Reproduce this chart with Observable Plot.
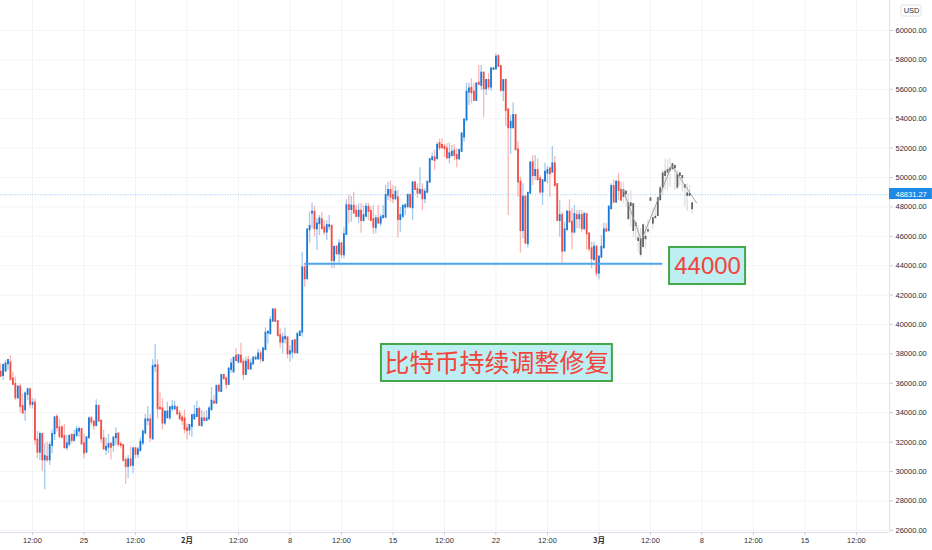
<!DOCTYPE html>
<html>
<head>
<meta charset="utf-8">
<script src="https://cdn.jsdelivr.net/npm/d3@7"></script>
<script src="https://cdn.jsdelivr.net/npm/@observablehq/plot@0.6"></script>
<style>
html,body{margin:0;padding:0;background:#fff}
svg{display:block}
</style>
</head>
<body>
<div id="chart"></div>
<script>
// 4-hour candles, first candle 19 Jan 2021 08:00 UTC
const firstCandle = Date.UTC(2021, 0, 19, 8);
const opens = [
36760,36530,36830,37320,37390,36300,35920,35010,35740,34420,
34190,35240,35560,34560,34650,32150,31310,32520,30790,30970,
30790,31770,32560,33700,32970,32970,32380,31610,31840,32450,
32110,32450,32740,32860,31880,31310,32290,33580,33360,33130,
34440,33420,32220,31470,31650,31840,31770,32290,32560,31840,
31770,30750,30340,30790,30410,31540,31160,31430,31930,32610,
33470,33510,32220,37140,37190,34310,34260,33290,33650,33650,
34260,34260,34330,33920,33650,33580,32900,32830,33060,33580,
33740,34220,33110,33580,33470,33580,34190,34720,34650,35800,
35440,36530,36300,35920,36940,36760,37840,37440,37840,37440,
36600,37550,36980,37320,37660,37660,38000,37550,38280,39410,
39360,40230,41000,40200,39250,38800,39020,39090,38000,38120,
38910,38070,39250,39480,43850,43110,46440,47570,47640,46510,
46850,47120,46580,46280,46670,46690,44350,45260,44810,45490,
44740,46120,48090,47820,48050,47710,47350,47710,47070,47350,
47980,47690,47140,46580,47190,46890,47260,47300,48780,49120,
48780,48550,48620,47140,47350,47980,48020,48780,47940,49640,
49180,48930,49120,48550,49000,49680,51200,51340,51270,52300,
52180,52060,51950,51340,51500,51790,51500,51270,51770,52740,
53920,55810,56080,55810,55240,56420,56260,57100,56030,56600,
56150,57350,57390,58230,57550,55920,56600,54600,53380,53380,
54220,51880,49680,46390,48660,45490,48930,51000,50130,50480,
49910,49000,49750,50290,50590,50360,50930,49520,47070,47410,
44990,46440,47640,46960,46280,47410,47190,47410,46510,47480,
46170,45150,44400,45260,43490,44580,45210,46440,46390,47870,
49390,48320,49680,49120,49110,49000,48210,48210,48160,46850,
45830,45760,45300,45940,46390,48440,46890,47260,47410,48480,
49340,50130,50360,50480,50590,50660,50140,50140,49980,49340,
48780,48780,48210];
const highs = [
37320,37320,37550,37600,37890,36760,36420,35850,35960,35280,
35400,35690,35620,34950,34940,32740,32680,32560,31880,31990,
31990,32830,33740,33880,33580,33130,33200,32450,32520,32560,
32790,33060,33020,32900,32560,32380,33700,33740,33470,34880,
34490,33510,32830,32290,32520,32000,32330,32970,32610,31990,
31840,30970,31090,31650,31650,31650,31650,32290,32830,33880,
34420,33880,37600,38640,37600,35400,34940,34150,34720,34420,
34830,34780,34420,34150,33810,34190,33240,33200,33880,34490,
34780,34380,34150,34040,34150,34420,35690,35170,35850,35960,
36600,36640,36420,36980,37660,37710,38390,37890,38730,37660,
37780,37840,37660,37820,37890,38340,38230,38460,39770,39550,
40540,41020,41020,40270,39700,39410,39770,39140,38570,38910,
38960,39480,39590,44920,44170,46440,47640,48250,48050,47190,
47410,47640,47070,47070,47410,46730,45300,45370,45760,45600,
46580,48480,48780,48710,49000,48090,48210,48210,48090,48250,
48250,47980,48090,47410,48090,47480,48090,49460,49680,49750,
49460,49390,49120,47980,48090,48210,48890,48890,49680,49750,
49570,50660,49570,49230,49750,51270,51660,51840,52400,52600,
52630,52240,52290,52340,52180,52240,51950,51880,53020,53920,
56420,56420,56710,56370,56420,57620,57620,57170,56640,57050,
57460,57500,58410,58350,57620,56640,56710,54670,54220,55080,
54240,52400,50020,49570,48770,49000,51040,51500,51500,51270,
50130,49840,50970,50750,50700,52110,51430,49570,48430,47640,
46960,47750,48480,47870,48090,47750,47750,47750,47640,47480,
46170,45600,45600,45370,44690,46050,46890,46850,48090,49570,
49840,49800,50290,49680,49680,49110,48890,49110,48210,47070,
46730,46510,46850,46730,47070,48550,47870,47980,48660,49460,
50480,51270,51200,51270,50880,50750,50480,50360,50070,49460,
49570,49460,48320];
const lows = [
36420,36190,36760,36870,36190,35850,34830,34880,33990,33920,
33420,34830,34260,34260,31770,30860,30750,30020,28750,30630,
30410,31200,32110,32680,32220,32220,31540,31430,31650,31880,
31990,32330,32330,31770,30860,31250,32220,33130,32790,33020,
33360,31880,31430,31090,31200,30790,31310,31770,31650,31540,
30630,29110,29500,30290,29840,30860,30860,31310,31770,32520,
33130,31990,32110,36760,33580,34150,32830,33130,33580,33470,
34040,34150,33810,33470,33130,32560,32150,32450,32330,33470,
33650,33060,33020,33360,33470,33470,34150,34600,34560,35400,
35400,36250,35560,35850,36690,36760,37550,37320,37320,36190,
36530,36870,36870,37210,37550,37550,37370,37440,38230,38680,
39320,40160,40160,39140,38340,38000,38680,37660,37440,37660,
38000,38000,39180,39140,42540,43040,45530,46510,45940,45030,
46050,46440,46050,45710,46390,43790,43790,44690,44130,44470,
44470,46050,46850,46960,47530,47260,46850,46210,46960,47260,
47070,47070,46120,46170,46850,46670,47250,47190,48440,48320,
48210,48440,45890,46280,47190,47410,47870,47870,47070,49120,
48550,48890,47750,48210,48890,49610,51160,50480,51270,51800,
51950,51340,51200,50930,51380,51160,50660,51160,51720,52400,
53760,54900,55010,55190,55190,56260,55920,54060,55580,55920,
55870,57300,57280,57510,55810,55170,53470,47410,51560,53310,
51840,48660,44850,45830,45490,45210,48890,49450,49790,49790,
48840,48090,49680,49570,48660,50290,49340,47070,45940,44170,
44990,46390,46960,45080,46170,46510,46510,46280,46390,45030,
44920,43790,44350,43220,43040,44470,45150,46280,46280,47800,
48250,48250,48440,48440,48210,47980,47120,46620,45940,45710,
44920,44580,45150,45150,46170,48400,46440,47190,47350,48440,
48780,49120,49120,49340,50480,49120,49160,49460,49000,47980,
47690,48770,47530];
const closes = [
36480,37210,37320,37550,36240,35920,35010,35740,34420,33970,
35280,35560,34560,34650,32150,31310,32520,30790,31020,30790,
31770,32520,33650,32970,32380,32330,31610,31880,32380,32110,
32450,32830,32860,31880,31250,32290,33580,33360,33110,34440,
33420,32220,31540,31650,31840,31650,32290,32520,31840,31770,
30750,30340,30790,30410,31540,31160,31470,31990,32680,33510,
33510,32290,37140,37190,34260,34260,33290,34040,34040,34330,
34380,34380,33920,33580,33470,32860,32790,33130,33790,33830,
34220,33130,33580,33470,33580,34260,34780,34650,35800,35460,
36530,36300,35920,36980,37320,37710,37550,37890,37440,36600,
37440,36980,37320,37710,37710,38000,37660,38340,39410,39480,
40270,41000,40200,39250,38800,39090,39140,38000,38160,38860,
38070,39320,39480,43850,43110,46440,46670,47640,46510,46850,
47190,46510,46280,46730,46730,44350,45260,44810,45490,44740,
46120,48090,47820,48050,47570,47350,47710,47070,47410,47980,
47690,47070,46620,47190,46890,47260,47350,48780,49120,48660,
48550,49000,47140,47410,48050,48090,48780,47980,49640,49180,
48930,49120,48550,49000,49680,51220,51340,51160,52180,52020,
52020,51950,51340,51610,51720,51500,51270,51840,52970,53920,
55810,56030,55760,55240,56370,56330,57100,56030,56600,56150,
57390,57390,58190,57550,55920,56600,54560,53380,53760,54220,
51880,49680,46390,48660,45530,48930,51000,50130,50480,49840,
49000,49790,50360,50480,50250,50930,49450,47070,47410,44990,
46440,47640,46960,46280,47480,47190,47410,46510,47480,46170,
45150,44470,45260,43490,44580,45260,46440,46350,47980,49390,
48320,49680,49120,48440,48710,48890,47190,48090,46390,46730,
45710,44760,46730,45830,46350,48550,47190,47300,48550,49230,
50250,50360,50480,50590,50880,50750,49340,50250,50070,49460,
48890,48850,47870];
// candles from this index on are the grey sketched projection
const projectionStart = 254;
const lastPrice = 48831.27;
const supportPrice = 44130;
const priceTicks = [26000,28000,30000,32000,34000,36000,38000,40000,42000,44000,46000,48000,50000,52000,54000,56000,58000,60000];
const timeTicks = [
  Date.UTC(2021,0,21,12),Date.UTC(2021,0,25),Date.UTC(2021,0,28,12),Date.UTC(2021,1,1),
  Date.UTC(2021,1,4,12),Date.UTC(2021,1,8),Date.UTC(2021,1,11,12),Date.UTC(2021,1,15),
  Date.UTC(2021,1,18,12),Date.UTC(2021,1,22),Date.UTC(2021,1,25,12),Date.UTC(2021,2,1),
  Date.UTC(2021,2,4,12),Date.UTC(2021,2,8),Date.UTC(2021,2,11,12),Date.UTC(2021,2,15),
  Date.UTC(2021,2,18,12)];
const timeLabels = ["12:00","25","12:00","2月","12:00","8","12:00","15","12:00","22","12:00","3月","12:00","8","12:00","15","12:00"];
// the hand-drawn zigzag over the projection: candle index, price
const zigzagIndex = [254, 261.3, 273.7, 283.8];
const zigzagPrice = [49115, 45713, 50816, 48276];

const H4 = 4 * 3600e3;
const at = i => new Date(firstCandle + i * H4);
const candles = closes.map((c, i) => ({
  t: at(i), o: opens[i], h: highs[i], l: lows[i], c,
  kind: i >= projectionStart ? "grey" : c >= opens[i] ? "up" : "down"
}));
const bodyColor = {up: "#1a78d6", down: "#f44c45", grey: "#626262"};
const wickColor = {up: "#5a9fe0", down: "#f77a70", grey: "#c4c4c4"};
const labelOf = new Map(timeTicks.map((t, i) => [t, timeLabels[i]]));
const fmtTime = d => labelOf.get(+d);
const isMonth = t => labelOf.get(t).endsWith("月");
const xEnd = at(362.5), pageEnd = at(380);
const sans = "'Liberation Sans', Arial, sans-serif";
const cjk = "'Noto Sans CJK SC', sans-serif";
const inkRed = "#f4433c", boxFill = "#bdeef2", boxEdge = "#43a84a";
const inkAxis = "#2a2e39", tickInk = "#c9ccd4";

const chart = Plot.plot({
  width: 932, height: 550,
  marginLeft: 0, marginRight: 43, marginTop: 0, marginBottom: 18,
  style: {background: "#fff", fontFamily: sans},
  x: {type: "utc", domain: [at(-0.05), xEnd], range: [0, 889]},
  y: {type: "linear", domain: [62041, 25850], range: [0, 532]},
  marks: [
    Plot.gridX(timeTicks.map(t => new Date(t)), {stroke: "#f3f4f8", strokeOpacity: 1}),
    Plot.gridY(priceTicks, {stroke: "#f3f4f8", strokeOpacity: 1}),
    Plot.ruleY([25850], {stroke: "#dfe2ea"}),
    Plot.ruleX([xEnd], {stroke: "#dfe2ea"}),
    Plot.ruleY([lastPrice], {stroke: "#6db3f2", strokeDasharray: "1,1.5", strokeOpacity: 0.65, strokeWidth: 1}),
    Plot.ruleX(candles, {x: "t", y1: "l", y2: "h", stroke: d => wickColor[d.kind], strokeWidth: 1.3, strokeOpacity: 0.55}),
    Plot.ruleX(candles, {x: "t", y1: "o", y2: "c", stroke: d => bodyColor[d.kind], strokeWidth: 1.8, strokeLinecap: "square"}),
    Plot.line(zigzagIndex.map((k, i) => ({t: at(k), p: zigzagPrice[i]})), {x: "t", y: "p", stroke: "#999", strokeWidth: 0.9}),
    Plot.line([{t: at(111.3 + 13), p: supportPrice}, {t: at(256.5 + 13), p: supportPrice}], {x: "t", y: "p", stroke: "#4ea5ec", strokeWidth: 2}),
    Plot.rect([{}], {x1: at(272.8), x2: at(303.8), y1: 45238, y2: 42721, fill: boxFill, stroke: boxEdge, strokeWidth: 2}),
    Plot.text(["44000"], {x: at(288.3), y: 43960, fill: inkRed, fontSize: 24, fontFamily: sans, textAnchor: "middle"}),
    Plot.rect([{}], {x1: at(155.3), x2: at(249.5), y1: 38639, y2: 36122, fill: boxFill, stroke: boxEdge, strokeWidth: 2}),
    Plot.text(["比特币持续调整修复"], {x: at(202.4), y: 37320, fill: inkRed, fontSize: 25, fontFamily: cjk, textAnchor: "middle"}),
    Plot.rect([{}], {x1: xEnd, x2: pageEnd, y1: 49252, y2: 48503, fill: "#1e88e5"}),
    Plot.text(["48831.27"], {x: at(362.5 + 2.45), y: lastPrice, fill: "#fff", fontSize: 7.5, fontFamily: sans, textAnchor: "start"}),
    Plot.rect([{}], {x1: at(367.4), x2: at(375.6), y1: 61700, y2: 60950, fill: "#fff", stroke: "#dfe2ea", rx: 2}),
    Plot.text(["USD"], {x: at(371.5), y: 61325, fill: inkAxis, fontSize: 7.5, fontFamily: sans, textAnchor: "middle"}),
    Plot.axisY(priceTicks, {anchor: "right", label: null, tickSize: 3, tickPadding: 3, stroke: tickInk, fill: inkAxis, fontSize: 7.5, tickFormat: d => d.toFixed(2)}),
    Plot.axisX(timeTicks.filter(t => !isMonth(t)).map(t => new Date(t)), {anchor: "bottom", label: null, tickSize: 3, tickPadding: 2, stroke: tickInk, fill: inkAxis, fontSize: 7.5, tickFormat: fmtTime}),
    Plot.axisX(timeTicks.filter(isMonth).map(t => new Date(t)), {anchor: "bottom", label: null, tickSize: 3, tickPadding: 2, stroke: tickInk, fill: inkAxis, fontSize: 7.5, fontWeight: "bold", fontFamily: cjk, tickFormat: fmtTime})
  ]
});
document.getElementById("chart").append(chart);
</script>
</body>
</html>
